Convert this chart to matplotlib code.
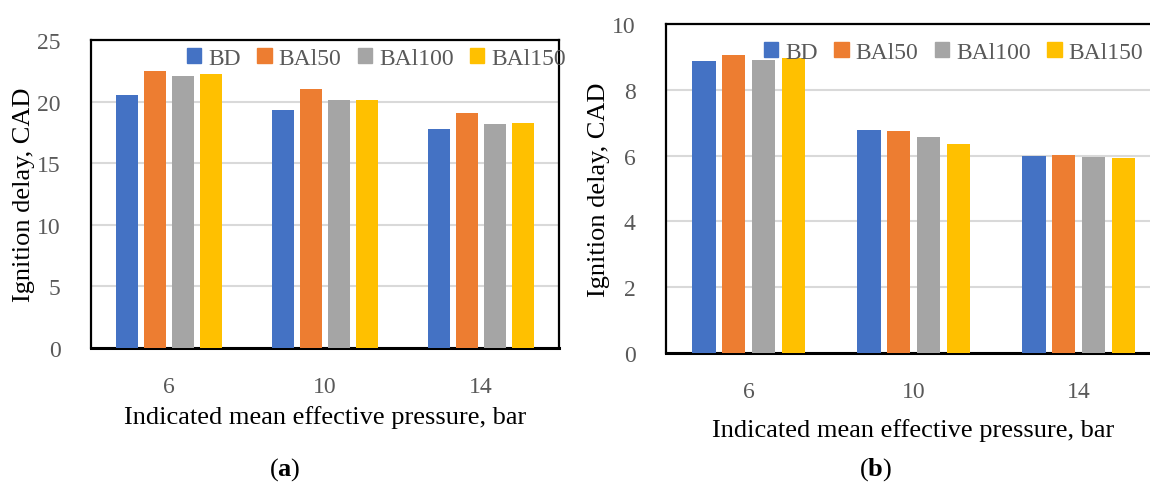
import matplotlib
matplotlib.use("Agg")
import matplotlib.pyplot as plt
import numpy as np
from matplotlib.patches import Patch

# data
pressures = ['6', '10', '14']
series = ['BD', 'BAl50', 'BAl100', 'BAl150']
colors = ['#4472C4', '#ED7D31', '#A5A5A5', '#FFC000']

# (a) ignition delay, CAD
delay_a_BD = [20.5, 19.3, 17.8]
delay_a_BAl50 = [22.5, 21.0, 19.05]
delay_a_BAl100 = [22.1, 20.1, 18.2]
delay_a_BAl150 = [22.2, 20.15, 18.25]

# (b) ignition delay, CAD
delay_b_BD = [8.88, 6.79, 6.0]
delay_b_BAl50 = [9.05, 6.75, 6.01]
delay_b_BAl100 = [8.92, 6.57, 5.96]
delay_b_BAl150 = [8.96, 6.36, 5.93]

plt.rcParams['font.family'] = ['Liberation Serif', 'DejaVu Serif']
plt.rcParams['mathtext.fontset'] = 'custom'
plt.rcParams['mathtext.rm'] = 'Liberation Serif'
plt.rcParams['mathtext.bf'] = 'Liberation Serif:bold'
tick_col = '#595959'
fs = 17
lab_fs = 19

fig = plt.figure(figsize=(11.5, 4.89), dpi=100)


def draw(ax, vals, ymax, ystep, leg_x, leg_y, ylpad, xlpad):
    x = np.arange(len(pressures))
    width = 0.14
    stride = 0.18
    for k, (v, c) in enumerate(zip(vals, colors)):
        ax.bar(x + (k - 1.5) * stride, v, width, color=c, zorder=3)
    ax.set_xlim(-0.5, 2.5)
    ax.set_ylim(0, ymax)
    ax.set_yticks(np.arange(0, ymax + 0.01, ystep))
    ax.set_xticks(x, pressures)
    ax.yaxis.grid(True, color='#d9d9d9', lw=1.5, zorder=0)
    ax.tick_params(axis='both', length=0, labelsize=fs, labelcolor=tick_col)
    ax.tick_params(axis='y', pad=22)
    ax.tick_params(axis='x', pad=20)
    for s in ax.spines.values():
        s.set_color('black')
        s.set_linewidth(1.6)
    ax.spines['bottom'].set_linewidth(2.2)
    ax.set_ylabel('Ignition delay, CAD', fontsize=lab_fs, labelpad=ylpad)
    ax.set_xlabel('Indicated mean effective pressure, bar', fontsize=lab_fs,
                  labelpad=xlpad)
    handles = [Patch(color=c) for c in colors]
    leg = ax.legend(handles, series, ncol=4, loc='upper left',
                    bbox_to_anchor=(leg_x, leg_y), frameon=False,
                    fontsize=fs, handlelength=0.6, handleheight=0.6,
                    handletextpad=0.3, columnspacing=0.7, borderpad=0,
                    borderaxespad=0)
    for t in leg.get_texts():
        t.set_color(tick_col)


ax1 = fig.add_axes([91 / 1150, 1 - 349 / 489, 468 / 1150, 308 / 489])
draw(ax1, [delay_a_BD, delay_a_BAl50, delay_a_BAl100, delay_a_BAl150],
     25, 5, 0.205, 0.975, 1, 6)

ax2 = fig.add_axes([666 / 1150, 1 - 354 / 489, 495 / 1150, 329 / 489])
draw(ax2, [delay_b_BD, delay_b_BAl50, delay_b_BAl100, delay_b_BAl150],
     10, 2, 0.198, 0.945, 1, 12)

fig.text(285 / 1150, 1 - 470 / 489, r'($\mathbf{a}$)', fontsize=lab_fs,
         ha='center', va='center')
fig.text(876 / 1150, 1 - 470 / 489, r'($\mathbf{b}$)', fontsize=lab_fs,
         ha='center', va='center')

fig.savefig('out.png', dpi=100)
